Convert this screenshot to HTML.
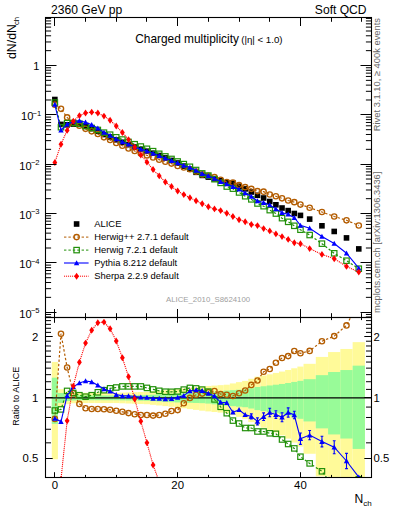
<!DOCTYPE html><html><head><meta charset="utf-8"><style>html,body{margin:0;padding:0;background:#fff;width:393px;height:512px;overflow:hidden}svg{display:block}</style></head><body><svg width="393" height="512" viewBox="0 0 393 512" font-family="Liberation Sans, sans-serif"><rect width="393" height="512" fill="#fff"/><defs><clipPath id="cm"><rect x="45.5" y="17.5" width="326.0" height="300.0"/></clipPath><clipPath id="cr"><rect x="45.5" y="317.5" width="326.0" height="160.0"/></clipPath></defs><g clip-path="url(#cr)"><g fill="#fffa99"><rect x="51.78" y="361.94" width="6.14" height="97.33"/><rect x="57.92" y="389.16" width="6.14" height="18.23"/><rect x="64.06" y="391.84" width="6.14" height="12.36"/><rect x="70.2" y="392.66" width="6.14" height="10.59"/><rect x="76.34" y="392.75" width="6.14" height="10.42"/><rect x="82.48" y="392.83" width="6.14" height="10.24"/><rect x="88.62" y="392.83" width="6.14" height="10.24"/><rect x="94.76" y="392.83" width="6.14" height="10.24"/><rect x="100.9" y="392.83" width="6.14" height="10.24"/><rect x="107.04" y="392.83" width="6.14" height="10.24"/><rect x="113.18" y="392.83" width="6.14" height="10.24"/><rect x="119.32" y="392.63" width="6.14" height="10.66"/><rect x="125.46" y="392.43" width="6.14" height="11.09"/><rect x="131.6" y="392.23" width="6.14" height="11.51"/><rect x="137.74" y="392.03" width="6.14" height="11.94"/><rect x="143.88" y="391.84" width="6.14" height="12.36"/><rect x="150.02" y="391.29" width="6.14" height="13.54"/><rect x="156.16" y="390.74" width="6.14" height="14.73"/><rect x="162.3" y="390.2" width="6.14" height="15.91"/><rect x="168.44" y="389.66" width="6.14" height="17.1"/><rect x="174.58" y="389.08" width="6.14" height="18.4"/><rect x="180.72" y="388.44" width="6.14" height="19.83"/><rect x="186.86" y="387.81" width="6.14" height="21.26"/><rect x="193" y="387.18" width="6.14" height="22.69"/><rect x="199.14" y="386.56" width="6.14" height="24.13"/><rect x="205.28" y="386.03" width="6.14" height="25.36"/><rect x="211.42" y="385.59" width="6.14" height="26.39"/><rect x="217.56" y="385.15" width="6.14" height="27.42"/><rect x="223.7" y="384.72" width="6.14" height="28.46"/><rect x="229.84" y="383.42" width="6.14" height="31.57"/><rect x="235.98" y="382.15" width="6.14" height="34.7"/><rect x="242.12" y="380.89" width="6.14" height="37.85"/><rect x="248.26" y="378.76" width="6.14" height="43.35"/><rect x="254.4" y="376.69" width="6.14" height="48.93"/><rect x="260.54" y="375.5" width="6.14" height="52.22"/><rect x="266.68" y="374.33" width="6.14" height="55.55"/><rect x="272.82" y="372.94" width="6.14" height="59.62"/><rect x="278.96" y="371.56" width="6.14" height="63.75"/><rect x="285.1" y="370.01" width="6.14" height="68.61"/><rect x="291.24" y="368.27" width="6.14" height="74.24"/><rect x="297.38" y="366.58" width="6.14" height="80.01"/><rect x="303.52" y="363.83" width="12.28" height="89.94"/><rect x="315.8" y="356.92" width="12.28" height="119.49"/><rect x="328.08" y="352.06" width="12.28" height="146.19"/><rect x="340.36" y="348.97" width="12.28" height="167.59"/><rect x="352.64" y="342.15" width="12.28" height="242.58"/></g><g fill="#98fb98"><rect x="51.78" y="377.71" width="6.14" height="46.17"/><rect x="57.92" y="393" width="6.14" height="9.88"/><rect x="64.06" y="394.77" width="6.14" height="6.17"/><rect x="70.2" y="395.19" width="6.14" height="5.29"/><rect x="76.34" y="395.32" width="6.14" height="5.03"/><rect x="82.48" y="395.45" width="6.14" height="4.76"/><rect x="88.62" y="395.45" width="6.14" height="4.76"/><rect x="94.76" y="395.45" width="6.14" height="4.76"/><rect x="100.9" y="395.45" width="6.14" height="4.76"/><rect x="107.04" y="395.45" width="6.14" height="4.76"/><rect x="113.18" y="395.45" width="6.14" height="4.76"/><rect x="119.32" y="395.35" width="6.14" height="4.97"/><rect x="125.46" y="395.25" width="6.14" height="5.19"/><rect x="131.6" y="395.14" width="6.14" height="5.4"/><rect x="137.74" y="395.04" width="6.14" height="5.61"/><rect x="143.88" y="394.94" width="6.14" height="5.82"/><rect x="150.02" y="394.62" width="6.14" height="6.49"/><rect x="156.16" y="394.3" width="6.14" height="7.15"/><rect x="162.3" y="393.98" width="6.14" height="7.82"/><rect x="168.44" y="393.66" width="6.14" height="8.49"/><rect x="174.58" y="393.41" width="6.14" height="9"/><rect x="180.72" y="393.25" width="6.14" height="9.35"/><rect x="186.86" y="393.08" width="6.14" height="9.71"/><rect x="193" y="392.91" width="6.14" height="10.06"/><rect x="199.14" y="392.75" width="6.14" height="10.42"/><rect x="205.28" y="392.37" width="6.14" height="11.22"/><rect x="211.42" y="391.78" width="6.14" height="12.49"/><rect x="217.56" y="391.19" width="6.14" height="13.76"/><rect x="223.7" y="390.61" width="6.14" height="15.02"/><rect x="229.84" y="390.17" width="6.14" height="15.99"/><rect x="235.98" y="389.73" width="6.14" height="16.95"/><rect x="242.12" y="389.29" width="6.14" height="17.92"/><rect x="248.26" y="388.24" width="6.14" height="20.28"/><rect x="254.4" y="387.03" width="6.14" height="23.05"/><rect x="260.54" y="386.25" width="6.14" height="24.85"/><rect x="266.68" y="385.48" width="6.14" height="26.65"/><rect x="272.82" y="384.72" width="6.14" height="28.46"/><rect x="278.96" y="383.96" width="6.14" height="30.27"/><rect x="285.1" y="383.03" width="6.14" height="32.53"/><rect x="291.24" y="381.93" width="6.14" height="35.23"/><rect x="297.38" y="380.85" width="6.14" height="37.96"/><rect x="303.52" y="379.19" width="12.28" height="42.23"/><rect x="315.8" y="375.15" width="12.28" height="53.22"/><rect x="328.08" y="372" width="12.28" height="62.43"/><rect x="340.36" y="370.05" width="12.28" height="68.49"/><rect x="352.64" y="365.65" width="12.28" height="83.27"/></g><line x1="45.5" y1="397.8" x2="371.5" y2="397.8" stroke="#000" stroke-width="1.2"/><polyline fill="none" stroke="#b35c00" stroke-width="1.2" stroke-dasharray="2.4,2" points="54.85,418.9 60.99,333.7 67.13,367.5 73.27,393.2 79.41,403.9 85.55,408.2 91.69,409 97.83,409 103.97,409.3 110.11,409.8 116.25,410.8 122.39,411.8 128.53,413.1 134.67,414.2 140.81,415 146.95,415 153.09,415.6 159.23,415 165.37,413.7 171.51,411 177.65,410.1 183.79,403.3 189.93,397.9 196.07,394.8 202.21,393.6 208.35,392.3 214.49,391 220.63,394.1 226.77,394.8 232.91,396 239.05,393.3 245.19,390.5 251.33,384.9 257.47,380.5 263.61,371.8 269.75,369 275.89,362.8 282.03,358 288.17,356.1 294.31,351 300.45,353.3 309.66,350.9 321.94,341.2 334.22,336.1 346.5,325.4 358.78,301.53"/><circle cx="54.85" cy="418.9" r="2.65" fill="none" stroke="#b35c00" stroke-width="1.35"/><circle cx="60.99" cy="333.7" r="2.65" fill="none" stroke="#b35c00" stroke-width="1.35"/><circle cx="67.13" cy="367.5" r="2.65" fill="none" stroke="#b35c00" stroke-width="1.35"/><circle cx="73.27" cy="393.2" r="2.65" fill="none" stroke="#b35c00" stroke-width="1.35"/><circle cx="79.41" cy="403.9" r="2.65" fill="none" stroke="#b35c00" stroke-width="1.35"/><circle cx="85.55" cy="408.2" r="2.65" fill="none" stroke="#b35c00" stroke-width="1.35"/><circle cx="91.69" cy="409" r="2.65" fill="none" stroke="#b35c00" stroke-width="1.35"/><circle cx="97.83" cy="409" r="2.65" fill="none" stroke="#b35c00" stroke-width="1.35"/><circle cx="103.97" cy="409.3" r="2.65" fill="none" stroke="#b35c00" stroke-width="1.35"/><circle cx="110.11" cy="409.8" r="2.65" fill="none" stroke="#b35c00" stroke-width="1.35"/><circle cx="116.25" cy="410.8" r="2.65" fill="none" stroke="#b35c00" stroke-width="1.35"/><circle cx="122.39" cy="411.8" r="2.65" fill="none" stroke="#b35c00" stroke-width="1.35"/><circle cx="128.53" cy="413.1" r="2.65" fill="none" stroke="#b35c00" stroke-width="1.35"/><circle cx="134.67" cy="414.2" r="2.65" fill="none" stroke="#b35c00" stroke-width="1.35"/><circle cx="140.81" cy="415" r="2.65" fill="none" stroke="#b35c00" stroke-width="1.35"/><circle cx="146.95" cy="415" r="2.65" fill="none" stroke="#b35c00" stroke-width="1.35"/><circle cx="153.09" cy="415.6" r="2.65" fill="none" stroke="#b35c00" stroke-width="1.35"/><circle cx="159.23" cy="415" r="2.65" fill="none" stroke="#b35c00" stroke-width="1.35"/><circle cx="165.37" cy="413.7" r="2.65" fill="none" stroke="#b35c00" stroke-width="1.35"/><circle cx="171.51" cy="411" r="2.65" fill="none" stroke="#b35c00" stroke-width="1.35"/><circle cx="177.65" cy="410.1" r="2.65" fill="none" stroke="#b35c00" stroke-width="1.35"/><circle cx="183.79" cy="403.3" r="2.65" fill="none" stroke="#b35c00" stroke-width="1.35"/><circle cx="189.93" cy="397.9" r="2.65" fill="none" stroke="#b35c00" stroke-width="1.35"/><circle cx="196.07" cy="394.8" r="2.65" fill="none" stroke="#b35c00" stroke-width="1.35"/><circle cx="202.21" cy="393.6" r="2.65" fill="none" stroke="#b35c00" stroke-width="1.35"/><circle cx="208.35" cy="392.3" r="2.65" fill="none" stroke="#b35c00" stroke-width="1.35"/><circle cx="214.49" cy="391" r="2.65" fill="none" stroke="#b35c00" stroke-width="1.35"/><circle cx="220.63" cy="394.1" r="2.65" fill="none" stroke="#b35c00" stroke-width="1.35"/><circle cx="226.77" cy="394.8" r="2.65" fill="none" stroke="#b35c00" stroke-width="1.35"/><circle cx="232.91" cy="396" r="2.65" fill="none" stroke="#b35c00" stroke-width="1.35"/><circle cx="239.05" cy="393.3" r="2.65" fill="none" stroke="#b35c00" stroke-width="1.35"/><circle cx="245.19" cy="390.5" r="2.65" fill="none" stroke="#b35c00" stroke-width="1.35"/><circle cx="251.33" cy="384.9" r="2.65" fill="none" stroke="#b35c00" stroke-width="1.35"/><circle cx="257.47" cy="380.5" r="2.65" fill="none" stroke="#b35c00" stroke-width="1.35"/><circle cx="263.61" cy="371.8" r="2.65" fill="none" stroke="#b35c00" stroke-width="1.35"/><circle cx="269.75" cy="369" r="2.65" fill="none" stroke="#b35c00" stroke-width="1.35"/><circle cx="275.89" cy="362.8" r="2.65" fill="none" stroke="#b35c00" stroke-width="1.35"/><circle cx="282.03" cy="358" r="2.65" fill="none" stroke="#b35c00" stroke-width="1.35"/><circle cx="288.17" cy="356.1" r="2.65" fill="none" stroke="#b35c00" stroke-width="1.35"/><circle cx="294.31" cy="351" r="2.65" fill="none" stroke="#b35c00" stroke-width="1.35"/><circle cx="300.45" cy="353.3" r="2.65" fill="none" stroke="#b35c00" stroke-width="1.35"/><circle cx="309.66" cy="350.9" r="2.65" fill="none" stroke="#b35c00" stroke-width="1.35"/><circle cx="321.94" cy="341.2" r="2.65" fill="none" stroke="#b35c00" stroke-width="1.35"/><circle cx="334.22" cy="336.1" r="2.65" fill="none" stroke="#b35c00" stroke-width="1.35"/><circle cx="346.5" cy="325.4" r="2.65" fill="none" stroke="#b35c00" stroke-width="1.35"/><circle cx="358.78" cy="301.53" r="2.65" fill="none" stroke="#b35c00" stroke-width="1.35"/><polyline fill="none" stroke="#22900a" stroke-width="1.2" stroke-dasharray="2.4,2" points="54.85,410.5 60.99,409.4 67.13,390.9 73.27,392.9 79.41,395.2 85.55,396.7 91.69,395.2 97.83,392.3 103.97,390.2 110.11,388.3 116.25,387.5 122.39,386.4 128.53,386.4 134.67,386.4 140.81,386.4 146.95,387.9 153.09,389.4 159.23,390.8 165.37,391.7 171.51,391.8 177.65,391.5 183.79,389.6 189.93,387.9 196.07,388.4 202.21,389.6 208.35,391.6 214.49,399.4 220.63,406.8 226.77,413.2 232.91,420.6 239.05,423.5 245.19,428 251.33,428 257.47,431.5 263.61,431.5 269.75,433.3 275.89,433.8 282.03,439.5 288.17,444 294.31,448.4 300.45,456.7 309.66,463.4 321.94,471.3 334.22,487.7 346.5,491.61 358.78,479.26"/><rect x="52.15" y="407.8" width="5.4" height="5.4" fill="none" stroke="#22900a" stroke-width="1.2"/><rect x="58.29" y="406.7" width="5.4" height="5.4" fill="none" stroke="#22900a" stroke-width="1.2"/><rect x="64.43" y="388.2" width="5.4" height="5.4" fill="none" stroke="#22900a" stroke-width="1.2"/><rect x="70.57" y="390.2" width="5.4" height="5.4" fill="none" stroke="#22900a" stroke-width="1.2"/><rect x="76.71" y="392.5" width="5.4" height="5.4" fill="none" stroke="#22900a" stroke-width="1.2"/><rect x="82.85" y="394" width="5.4" height="5.4" fill="none" stroke="#22900a" stroke-width="1.2"/><rect x="88.99" y="392.5" width="5.4" height="5.4" fill="none" stroke="#22900a" stroke-width="1.2"/><rect x="95.13" y="389.6" width="5.4" height="5.4" fill="none" stroke="#22900a" stroke-width="1.2"/><rect x="101.27" y="387.5" width="5.4" height="5.4" fill="none" stroke="#22900a" stroke-width="1.2"/><rect x="107.41" y="385.6" width="5.4" height="5.4" fill="none" stroke="#22900a" stroke-width="1.2"/><rect x="113.55" y="384.8" width="5.4" height="5.4" fill="none" stroke="#22900a" stroke-width="1.2"/><rect x="119.69" y="383.7" width="5.4" height="5.4" fill="none" stroke="#22900a" stroke-width="1.2"/><rect x="125.83" y="383.7" width="5.4" height="5.4" fill="none" stroke="#22900a" stroke-width="1.2"/><rect x="131.97" y="383.7" width="5.4" height="5.4" fill="none" stroke="#22900a" stroke-width="1.2"/><rect x="138.11" y="383.7" width="5.4" height="5.4" fill="none" stroke="#22900a" stroke-width="1.2"/><rect x="144.25" y="385.2" width="5.4" height="5.4" fill="none" stroke="#22900a" stroke-width="1.2"/><rect x="150.39" y="386.7" width="5.4" height="5.4" fill="none" stroke="#22900a" stroke-width="1.2"/><rect x="156.53" y="388.1" width="5.4" height="5.4" fill="none" stroke="#22900a" stroke-width="1.2"/><rect x="162.67" y="389" width="5.4" height="5.4" fill="none" stroke="#22900a" stroke-width="1.2"/><rect x="168.81" y="389.1" width="5.4" height="5.4" fill="none" stroke="#22900a" stroke-width="1.2"/><rect x="174.95" y="388.8" width="5.4" height="5.4" fill="none" stroke="#22900a" stroke-width="1.2"/><rect x="181.09" y="386.9" width="5.4" height="5.4" fill="none" stroke="#22900a" stroke-width="1.2"/><rect x="187.23" y="385.2" width="5.4" height="5.4" fill="none" stroke="#22900a" stroke-width="1.2"/><rect x="193.37" y="385.7" width="5.4" height="5.4" fill="none" stroke="#22900a" stroke-width="1.2"/><rect x="199.51" y="386.9" width="5.4" height="5.4" fill="none" stroke="#22900a" stroke-width="1.2"/><rect x="205.65" y="388.9" width="5.4" height="5.4" fill="none" stroke="#22900a" stroke-width="1.2"/><rect x="211.79" y="396.7" width="5.4" height="5.4" fill="none" stroke="#22900a" stroke-width="1.2"/><rect x="217.93" y="404.1" width="5.4" height="5.4" fill="none" stroke="#22900a" stroke-width="1.2"/><rect x="224.07" y="410.5" width="5.4" height="5.4" fill="none" stroke="#22900a" stroke-width="1.2"/><rect x="230.21" y="417.9" width="5.4" height="5.4" fill="none" stroke="#22900a" stroke-width="1.2"/><rect x="236.35" y="420.8" width="5.4" height="5.4" fill="none" stroke="#22900a" stroke-width="1.2"/><rect x="242.49" y="425.3" width="5.4" height="5.4" fill="none" stroke="#22900a" stroke-width="1.2"/><rect x="248.63" y="425.3" width="5.4" height="5.4" fill="none" stroke="#22900a" stroke-width="1.2"/><rect x="254.77" y="428.8" width="5.4" height="5.4" fill="none" stroke="#22900a" stroke-width="1.2"/><rect x="260.91" y="428.8" width="5.4" height="5.4" fill="none" stroke="#22900a" stroke-width="1.2"/><rect x="267.05" y="430.6" width="5.4" height="5.4" fill="none" stroke="#22900a" stroke-width="1.2"/><rect x="273.19" y="431.1" width="5.4" height="5.4" fill="none" stroke="#22900a" stroke-width="1.2"/><rect x="279.33" y="436.8" width="5.4" height="5.4" fill="none" stroke="#22900a" stroke-width="1.2"/><rect x="285.47" y="441.3" width="5.4" height="5.4" fill="none" stroke="#22900a" stroke-width="1.2"/><rect x="291.61" y="445.7" width="5.4" height="5.4" fill="none" stroke="#22900a" stroke-width="1.2"/><rect x="297.75" y="454" width="5.4" height="5.4" fill="none" stroke="#22900a" stroke-width="1.2"/><rect x="306.96" y="460.7" width="5.4" height="5.4" fill="none" stroke="#22900a" stroke-width="1.2"/><rect x="319.24" y="468.6" width="5.4" height="5.4" fill="none" stroke="#22900a" stroke-width="1.2"/><rect x="331.52" y="485" width="5.4" height="5.4" fill="none" stroke="#22900a" stroke-width="1.2"/><rect x="343.8" y="488.91" width="5.4" height="5.4" fill="none" stroke="#22900a" stroke-width="1.2"/><rect x="356.08" y="476.56" width="5.4" height="5.4" fill="none" stroke="#22900a" stroke-width="1.2"/><polyline fill="none" stroke="#0000ff" stroke-width="1.1"  points="54.85,418.5 60.99,421.6 67.13,395.6 73.27,386.8 79.41,383 85.55,381 91.69,381.9 97.83,385.3 103.97,389 110.11,391.3 116.25,394.6 122.39,395.9 128.53,395.9 134.67,396.5 140.81,397.1 146.95,397.4 153.09,398.4 159.23,398.4 165.37,399 171.51,398.6 177.65,397.4 183.79,395.6 189.93,391 196.07,390 202.21,390.7 208.35,393.4 214.49,396 220.63,402.3 226.77,402.7 232.91,412.3 239.05,409.8 245.19,414.7 251.33,416.4 257.47,421.4 263.61,416.7 269.75,412.5 275.89,414.6 282.03,417.3 288.17,412.5 294.31,415 300.45,438.7 309.66,435.1 321.94,441.6 334.22,447.2 346.5,461 358.78,477.1"/><polygon points="54.85,415.8 57.55,420.8 52.15,420.8" fill="#0000ff"/><polygon points="60.99,418.9 63.69,423.9 58.29,423.9" fill="#0000ff"/><polygon points="67.13,392.9 69.83,397.9 64.43,397.9" fill="#0000ff"/><polygon points="73.27,384.1 75.97,389.1 70.57,389.1" fill="#0000ff"/><polygon points="79.41,380.3 82.11,385.3 76.71,385.3" fill="#0000ff"/><polygon points="85.55,378.3 88.25,383.3 82.85,383.3" fill="#0000ff"/><polygon points="91.69,379.2 94.39,384.2 88.99,384.2" fill="#0000ff"/><polygon points="97.83,382.6 100.53,387.6 95.13,387.6" fill="#0000ff"/><polygon points="103.97,386.3 106.67,391.3 101.27,391.3" fill="#0000ff"/><polygon points="110.11,388.6 112.81,393.6 107.41,393.6" fill="#0000ff"/><polygon points="116.25,391.9 118.95,396.9 113.55,396.9" fill="#0000ff"/><polygon points="122.39,393.2 125.09,398.2 119.69,398.2" fill="#0000ff"/><polygon points="128.53,393.2 131.23,398.2 125.83,398.2" fill="#0000ff"/><polygon points="134.67,393.8 137.37,398.8 131.97,398.8" fill="#0000ff"/><polygon points="140.81,394.4 143.51,399.4 138.11,399.4" fill="#0000ff"/><polygon points="146.95,394.7 149.65,399.7 144.25,399.7" fill="#0000ff"/><polygon points="153.09,395.7 155.79,400.7 150.39,400.7" fill="#0000ff"/><polygon points="159.23,395.7 161.93,400.7 156.53,400.7" fill="#0000ff"/><polygon points="165.37,396.3 168.07,401.3 162.67,401.3" fill="#0000ff"/><polygon points="171.51,395.9 174.21,400.9 168.81,400.9" fill="#0000ff"/><polygon points="177.65,394.7 180.35,399.7 174.95,399.7" fill="#0000ff"/><polygon points="183.79,392.9 186.49,397.9 181.09,397.9" fill="#0000ff"/><polygon points="189.93,388.3 192.63,393.3 187.23,393.3" fill="#0000ff"/><polygon points="196.07,387.3 198.77,392.3 193.37,392.3" fill="#0000ff"/><polygon points="202.21,388 204.91,393 199.51,393" fill="#0000ff"/><polygon points="208.35,390.7 211.05,395.7 205.65,395.7" fill="#0000ff"/><polygon points="214.49,393.3 217.19,398.3 211.79,398.3" fill="#0000ff"/><polygon points="220.63,399.6 223.33,404.6 217.93,404.6" fill="#0000ff"/><polygon points="226.77,400 229.47,405 224.07,405" fill="#0000ff"/><polygon points="232.91,409.6 235.61,414.6 230.21,414.6" fill="#0000ff"/><polygon points="239.05,407.1 241.75,412.1 236.35,412.1" fill="#0000ff"/><polygon points="245.19,412 247.89,417 242.49,417" fill="#0000ff"/><polygon points="251.33,413.7 254.03,418.7 248.63,418.7" fill="#0000ff"/><polygon points="257.47,418.7 260.17,423.7 254.77,423.7" fill="#0000ff"/><polygon points="263.61,414 266.31,419 260.91,419" fill="#0000ff"/><polygon points="269.75,409.8 272.45,414.8 267.05,414.8" fill="#0000ff"/><polygon points="275.89,411.9 278.59,416.9 273.19,416.9" fill="#0000ff"/><polygon points="282.03,414.6 284.73,419.6 279.33,419.6" fill="#0000ff"/><polygon points="288.17,409.8 290.87,414.8 285.47,414.8" fill="#0000ff"/><polygon points="294.31,412.3 297.01,417.3 291.61,417.3" fill="#0000ff"/><polygon points="300.45,436 303.15,441 297.75,441" fill="#0000ff"/><polygon points="309.66,432.4 312.36,437.4 306.96,437.4" fill="#0000ff"/><polygon points="321.94,438.9 324.64,443.9 319.24,443.9" fill="#0000ff"/><polygon points="334.22,444.5 336.92,449.5 331.52,449.5" fill="#0000ff"/><polygon points="346.5,458.3 349.2,463.3 343.8,463.3" fill="#0000ff"/><polygon points="358.78,474.4 361.48,479.4 356.08,479.4" fill="#0000ff"/><path d="M251.33 413.9v5M249.93 413.9h2.8M249.93 418.9h2.8M257.47 417.9v7M256.07 417.9h2.8M256.07 424.9h2.8M263.61 412.9v7.6M262.21 412.9h2.8M262.21 420.5h2.8M269.75 408.3v8.4M268.35 408.3h2.8M268.35 416.7h2.8M275.89 410.8v7.6M274.49 410.8h2.8M274.49 418.4h2.8M282.03 412.8v9M280.63 412.8h2.8M280.63 421.8h2.8M288.17 407.9v9.2M286.77 407.9h2.8M286.77 417.1h2.8M294.31 411.2v7.6M292.91 411.2h2.8M292.91 418.8h2.8M300.45 433v11.4M299.05 433h2.8M299.05 444.4h2.8M309.66 430.5v9.2M308.26 430.5h2.8M308.26 439.7h2.8M321.94 436.3v10.6M320.54 436.3h2.8M320.54 446.9h2.8M334.22 440.7v13M332.82 440.7h2.8M332.82 453.7h2.8M346.5 453.4v15.2M345.1 453.4h2.8M345.1 468.6h2.8" stroke="#0000ff" stroke-width="1.1" fill="none"/><polyline fill="none" stroke="#ff0000" stroke-width="1.1" stroke-dasharray="1.1,0.9" points="54.85,657 60.99,479.26 67.13,420.8 73.27,386.1 79.41,362.2 85.55,343.1 91.69,330.2 97.83,322.7 103.97,322.1 110.11,328.8 116.25,341 122.39,357.7 128.53,376.8 134.67,399 140.81,421.3 146.95,442.8 153.09,465 159.23,481.73 165.37,496.95 171.51,505.18 177.65,513 183.79,515.06 189.93,515.06 196.07,514.65 202.21,514.65 208.35,519.99 214.49,521.64 220.63,520.82 226.77,523.29 232.91,535.22 239.05,535.63 245.19,532.75 251.33,531.52 257.47,522.46 263.61,523.7 269.75,518.76 275.89,517.53 282.03,515.47 288.17,516.29 294.31,517.94 300.45,514.23 309.66,519.17 321.94,515.47 334.22,509.91 346.5,515.06 358.78,493.25"/><polygon points="54.85,653.55 57.25,657 54.85,660.45 52.45,657" fill="#ff0000"/><polygon points="60.99,475.81 63.39,479.26 60.99,482.71 58.59,479.26" fill="#ff0000"/><polygon points="67.13,417.35 69.53,420.8 67.13,424.25 64.73,420.8" fill="#ff0000"/><polygon points="73.27,382.65 75.67,386.1 73.27,389.55 70.87,386.1" fill="#ff0000"/><polygon points="79.41,358.75 81.81,362.2 79.41,365.65 77.01,362.2" fill="#ff0000"/><polygon points="85.55,339.65 87.95,343.1 85.55,346.55 83.15,343.1" fill="#ff0000"/><polygon points="91.69,326.75 94.09,330.2 91.69,333.65 89.29,330.2" fill="#ff0000"/><polygon points="97.83,319.25 100.23,322.7 97.83,326.15 95.43,322.7" fill="#ff0000"/><polygon points="103.97,318.65 106.37,322.1 103.97,325.55 101.57,322.1" fill="#ff0000"/><polygon points="110.11,325.35 112.51,328.8 110.11,332.25 107.71,328.8" fill="#ff0000"/><polygon points="116.25,337.55 118.65,341 116.25,344.45 113.85,341" fill="#ff0000"/><polygon points="122.39,354.25 124.79,357.7 122.39,361.15 119.99,357.7" fill="#ff0000"/><polygon points="128.53,373.35 130.93,376.8 128.53,380.25 126.13,376.8" fill="#ff0000"/><polygon points="134.67,395.55 137.07,399 134.67,402.45 132.27,399" fill="#ff0000"/><polygon points="140.81,417.85 143.21,421.3 140.81,424.75 138.41,421.3" fill="#ff0000"/><polygon points="146.95,439.35 149.35,442.8 146.95,446.25 144.55,442.8" fill="#ff0000"/><polygon points="153.09,461.55 155.49,465 153.09,468.45 150.69,465" fill="#ff0000"/><polygon points="159.23,478.28 161.63,481.73 159.23,485.18 156.83,481.73" fill="#ff0000"/><polygon points="165.37,493.5 167.77,496.95 165.37,500.4 162.97,496.95" fill="#ff0000"/><polygon points="171.51,501.73 173.91,505.18 171.51,508.63 169.11,505.18" fill="#ff0000"/><polygon points="177.65,509.55 180.05,513 177.65,516.45 175.25,513" fill="#ff0000"/><polygon points="183.79,511.61 186.19,515.06 183.79,518.51 181.39,515.06" fill="#ff0000"/><polygon points="189.93,511.61 192.33,515.06 189.93,518.51 187.53,515.06" fill="#ff0000"/><polygon points="196.07,511.2 198.47,514.65 196.07,518.1 193.67,514.65" fill="#ff0000"/><polygon points="202.21,511.2 204.61,514.65 202.21,518.1 199.81,514.65" fill="#ff0000"/><polygon points="208.35,516.54 210.75,519.99 208.35,523.44 205.95,519.99" fill="#ff0000"/><polygon points="214.49,518.19 216.89,521.64 214.49,525.09 212.09,521.64" fill="#ff0000"/><polygon points="220.63,517.37 223.03,520.82 220.63,524.27 218.23,520.82" fill="#ff0000"/><polygon points="226.77,519.84 229.17,523.29 226.77,526.74 224.37,523.29" fill="#ff0000"/><polygon points="232.91,531.77 235.31,535.22 232.91,538.67 230.51,535.22" fill="#ff0000"/><polygon points="239.05,532.18 241.45,535.63 239.05,539.08 236.65,535.63" fill="#ff0000"/><polygon points="245.19,529.3 247.59,532.75 245.19,536.2 242.79,532.75" fill="#ff0000"/><polygon points="251.33,528.07 253.73,531.52 251.33,534.97 248.93,531.52" fill="#ff0000"/><polygon points="257.47,519.01 259.87,522.46 257.47,525.91 255.07,522.46" fill="#ff0000"/><polygon points="263.61,520.25 266.01,523.7 263.61,527.15 261.21,523.7" fill="#ff0000"/><polygon points="269.75,515.31 272.15,518.76 269.75,522.21 267.35,518.76" fill="#ff0000"/><polygon points="275.89,514.08 278.29,517.53 275.89,520.98 273.49,517.53" fill="#ff0000"/><polygon points="282.03,512.02 284.43,515.47 282.03,518.92 279.63,515.47" fill="#ff0000"/><polygon points="288.17,512.84 290.57,516.29 288.17,519.74 285.77,516.29" fill="#ff0000"/><polygon points="294.31,514.49 296.71,517.94 294.31,521.39 291.91,517.94" fill="#ff0000"/><polygon points="300.45,510.78 302.85,514.23 300.45,517.68 298.05,514.23" fill="#ff0000"/><polygon points="309.66,515.72 312.06,519.17 309.66,522.62 307.26,519.17" fill="#ff0000"/><polygon points="321.94,512.02 324.34,515.47 321.94,518.92 319.54,515.47" fill="#ff0000"/><polygon points="334.22,506.46 336.62,509.91 334.22,513.36 331.82,509.91" fill="#ff0000"/><polygon points="346.5,511.61 348.9,515.06 346.5,518.51 344.1,515.06" fill="#ff0000"/><polygon points="358.78,489.8 361.18,493.25 358.78,496.7 356.38,493.25" fill="#ff0000"/></g><g clip-path="url(#cm)"><rect x="52.05" y="96.7" width="5.6" height="5.6" fill="#000"/><rect x="58.19" y="121.6" width="5.6" height="5.6" fill="#000"/><rect x="64.33" y="122" width="5.6" height="5.6" fill="#000"/><rect x="70.47" y="121.3" width="5.6" height="5.6" fill="#000"/><rect x="76.61" y="121.5" width="5.6" height="5.6" fill="#000"/><rect x="82.75" y="123.5" width="5.6" height="5.6" fill="#000"/><rect x="88.89" y="125.8" width="5.6" height="5.6" fill="#000"/><rect x="95.03" y="128.5" width="5.6" height="5.6" fill="#000"/><rect x="101.17" y="131.7" width="5.6" height="5.6" fill="#000"/><rect x="107.31" y="134.2" width="5.6" height="5.6" fill="#000"/><rect x="113.45" y="137" width="5.6" height="5.6" fill="#000"/><rect x="119.59" y="139.5" width="5.6" height="5.6" fill="#000"/><rect x="125.73" y="141.9" width="5.6" height="5.6" fill="#000"/><rect x="131.87" y="144.2" width="5.6" height="5.6" fill="#000"/><rect x="138.01" y="146.5" width="5.6" height="5.6" fill="#000"/><rect x="144.15" y="148.4" width="5.6" height="5.6" fill="#000"/><rect x="150.29" y="150.4" width="5.6" height="5.6" fill="#000"/><rect x="156.43" y="152.7" width="5.6" height="5.6" fill="#000"/><rect x="162.57" y="155.1" width="5.6" height="5.6" fill="#000"/><rect x="168.71" y="157.6" width="5.6" height="5.6" fill="#000"/><rect x="174.85" y="160.2" width="5.6" height="5.6" fill="#000"/><rect x="180.99" y="163.3" width="5.6" height="5.6" fill="#000"/><rect x="187.13" y="166.4" width="5.6" height="5.6" fill="#000"/><rect x="193.27" y="169.5" width="5.6" height="5.6" fill="#000"/><rect x="199.41" y="172.6" width="5.6" height="5.6" fill="#000"/><rect x="205.55" y="174.3" width="5.6" height="5.6" fill="#000"/><rect x="211.69" y="176" width="5.6" height="5.6" fill="#000"/><rect x="217.83" y="177.9" width="5.6" height="5.6" fill="#000"/><rect x="223.97" y="180" width="5.6" height="5.6" fill="#000"/><rect x="230.11" y="180.3" width="5.6" height="5.6" fill="#000"/><rect x="236.25" y="183.4" width="5.6" height="5.6" fill="#000"/><rect x="242.39" y="186.1" width="5.6" height="5.6" fill="#000"/><rect x="248.53" y="189.2" width="5.6" height="5.6" fill="#000"/><rect x="254.67" y="192.5" width="5.6" height="5.6" fill="#000"/><rect x="260.81" y="195.2" width="5.6" height="5.6" fill="#000"/><rect x="266.95" y="198.7" width="5.6" height="5.6" fill="#000"/><rect x="273.09" y="202" width="5.6" height="5.6" fill="#000"/><rect x="279.23" y="205.2" width="5.6" height="5.6" fill="#000"/><rect x="285.37" y="207.8" width="5.6" height="5.6" fill="#000"/><rect x="291.51" y="210.7" width="5.6" height="5.6" fill="#000"/><rect x="297.65" y="212.6" width="5.6" height="5.6" fill="#000"/><rect x="306.86" y="216.3" width="5.6" height="5.6" fill="#000"/><rect x="319.14" y="223" width="5.6" height="5.6" fill="#000"/><rect x="331.42" y="228.65" width="5.6" height="5.6" fill="#000"/><rect x="343.7" y="235.1" width="5.6" height="5.6" fill="#000"/><rect x="355.98" y="246.1" width="5.6" height="5.6" fill="#000"/><polyline fill="none" stroke="#b35c00" stroke-width="1.2" stroke-dasharray="2.4,2" points="54.85,104.63 60.99,108.82 67.13,117.44 73.27,122.98 79.41,125.78 85.55,128.83 91.69,131.32 97.83,134.02 103.97,137.3 110.11,139.92 116.25,142.96 122.39,145.7 128.53,148.42 134.67,150.99 140.81,153.48 146.95,155.38 153.09,157.53 159.23,159.68 165.37,161.76 171.51,163.61 177.65,165.99 183.79,167.44 189.93,169.22 196.07,171.57 202.21,174.38 208.35,175.76 214.49,177.15 220.63,179.8 226.77,182.07 232.91,182.66 239.05,185.11 245.19,187.13 251.33,188.86 257.47,191.1 263.61,191.68 269.75,194.5 275.89,196.29 282.03,198.33 288.17,200.46 294.31,202.13 300.45,204.58 309.66,207.7 321.94,212.04 334.22,216.45 346.5,220.3 358.78,225.5"/><circle cx="54.85" cy="104.63" r="2.65" fill="none" stroke="#b35c00" stroke-width="1.35"/><circle cx="60.99" cy="108.82" r="2.65" fill="none" stroke="#b35c00" stroke-width="1.35"/><circle cx="67.13" cy="117.44" r="2.65" fill="none" stroke="#b35c00" stroke-width="1.35"/><circle cx="73.27" cy="122.98" r="2.65" fill="none" stroke="#b35c00" stroke-width="1.35"/><circle cx="79.41" cy="125.78" r="2.65" fill="none" stroke="#b35c00" stroke-width="1.35"/><circle cx="85.55" cy="128.83" r="2.65" fill="none" stroke="#b35c00" stroke-width="1.35"/><circle cx="91.69" cy="131.32" r="2.65" fill="none" stroke="#b35c00" stroke-width="1.35"/><circle cx="97.83" cy="134.02" r="2.65" fill="none" stroke="#b35c00" stroke-width="1.35"/><circle cx="103.97" cy="137.3" r="2.65" fill="none" stroke="#b35c00" stroke-width="1.35"/><circle cx="110.11" cy="139.92" r="2.65" fill="none" stroke="#b35c00" stroke-width="1.35"/><circle cx="116.25" cy="142.96" r="2.65" fill="none" stroke="#b35c00" stroke-width="1.35"/><circle cx="122.39" cy="145.7" r="2.65" fill="none" stroke="#b35c00" stroke-width="1.35"/><circle cx="128.53" cy="148.42" r="2.65" fill="none" stroke="#b35c00" stroke-width="1.35"/><circle cx="134.67" cy="150.99" r="2.65" fill="none" stroke="#b35c00" stroke-width="1.35"/><circle cx="140.81" cy="153.48" r="2.65" fill="none" stroke="#b35c00" stroke-width="1.35"/><circle cx="146.95" cy="155.38" r="2.65" fill="none" stroke="#b35c00" stroke-width="1.35"/><circle cx="153.09" cy="157.53" r="2.65" fill="none" stroke="#b35c00" stroke-width="1.35"/><circle cx="159.23" cy="159.68" r="2.65" fill="none" stroke="#b35c00" stroke-width="1.35"/><circle cx="165.37" cy="161.76" r="2.65" fill="none" stroke="#b35c00" stroke-width="1.35"/><circle cx="171.51" cy="163.61" r="2.65" fill="none" stroke="#b35c00" stroke-width="1.35"/><circle cx="177.65" cy="165.99" r="2.65" fill="none" stroke="#b35c00" stroke-width="1.35"/><circle cx="183.79" cy="167.44" r="2.65" fill="none" stroke="#b35c00" stroke-width="1.35"/><circle cx="189.93" cy="169.22" r="2.65" fill="none" stroke="#b35c00" stroke-width="1.35"/><circle cx="196.07" cy="171.57" r="2.65" fill="none" stroke="#b35c00" stroke-width="1.35"/><circle cx="202.21" cy="174.38" r="2.65" fill="none" stroke="#b35c00" stroke-width="1.35"/><circle cx="208.35" cy="175.76" r="2.65" fill="none" stroke="#b35c00" stroke-width="1.35"/><circle cx="214.49" cy="177.15" r="2.65" fill="none" stroke="#b35c00" stroke-width="1.35"/><circle cx="220.63" cy="179.8" r="2.65" fill="none" stroke="#b35c00" stroke-width="1.35"/><circle cx="226.77" cy="182.07" r="2.65" fill="none" stroke="#b35c00" stroke-width="1.35"/><circle cx="232.91" cy="182.66" r="2.65" fill="none" stroke="#b35c00" stroke-width="1.35"/><circle cx="239.05" cy="185.11" r="2.65" fill="none" stroke="#b35c00" stroke-width="1.35"/><circle cx="245.19" cy="187.13" r="2.65" fill="none" stroke="#b35c00" stroke-width="1.35"/><circle cx="251.33" cy="188.86" r="2.65" fill="none" stroke="#b35c00" stroke-width="1.35"/><circle cx="257.47" cy="191.1" r="2.65" fill="none" stroke="#b35c00" stroke-width="1.35"/><circle cx="263.61" cy="191.68" r="2.65" fill="none" stroke="#b35c00" stroke-width="1.35"/><circle cx="269.75" cy="194.5" r="2.65" fill="none" stroke="#b35c00" stroke-width="1.35"/><circle cx="275.89" cy="196.29" r="2.65" fill="none" stroke="#b35c00" stroke-width="1.35"/><circle cx="282.03" cy="198.33" r="2.65" fill="none" stroke="#b35c00" stroke-width="1.35"/><circle cx="288.17" cy="200.46" r="2.65" fill="none" stroke="#b35c00" stroke-width="1.35"/><circle cx="294.31" cy="202.13" r="2.65" fill="none" stroke="#b35c00" stroke-width="1.35"/><circle cx="300.45" cy="204.58" r="2.65" fill="none" stroke="#b35c00" stroke-width="1.35"/><circle cx="309.66" cy="207.7" r="2.65" fill="none" stroke="#b35c00" stroke-width="1.35"/><circle cx="321.94" cy="212.04" r="2.65" fill="none" stroke="#b35c00" stroke-width="1.35"/><circle cx="334.22" cy="216.45" r="2.65" fill="none" stroke="#b35c00" stroke-width="1.35"/><circle cx="346.5" cy="220.3" r="2.65" fill="none" stroke="#b35c00" stroke-width="1.35"/><circle cx="358.78" cy="225.5" r="2.65" fill="none" stroke="#b35c00" stroke-width="1.35"/><polyline fill="none" stroke="#22900a" stroke-width="1.2" stroke-dasharray="2.4,2" points="54.85,102.59 60.99,127.22 67.13,123.12 73.27,122.91 79.41,123.67 85.55,126.03 91.69,127.97 97.83,129.96 103.97,132.65 110.11,134.69 116.25,137.3 122.39,139.53 128.53,141.93 134.67,144.23 140.81,146.53 146.95,148.79 153.09,151.16 159.23,153.8 165.37,156.42 171.51,158.94 177.65,161.47 183.79,164.11 189.93,166.79 196.07,170.02 202.21,173.41 208.35,175.59 214.49,179.19 220.63,182.89 226.77,186.54 232.91,188.64 239.05,192.45 245.19,196.24 251.33,199.34 257.47,203.49 263.61,206.19 269.75,210.13 275.89,213.55 282.03,218.14 288.17,221.83 294.31,225.8 300.45,229.72 309.66,235.04 321.94,243.66 334.22,253.3 346.5,260.7 358.78,268.7"/><rect x="52.15" y="99.89" width="5.4" height="5.4" fill="none" stroke="#22900a" stroke-width="1.2"/><rect x="58.29" y="124.52" width="5.4" height="5.4" fill="none" stroke="#22900a" stroke-width="1.2"/><rect x="64.43" y="120.42" width="5.4" height="5.4" fill="none" stroke="#22900a" stroke-width="1.2"/><rect x="70.57" y="120.21" width="5.4" height="5.4" fill="none" stroke="#22900a" stroke-width="1.2"/><rect x="76.71" y="120.97" width="5.4" height="5.4" fill="none" stroke="#22900a" stroke-width="1.2"/><rect x="82.85" y="123.33" width="5.4" height="5.4" fill="none" stroke="#22900a" stroke-width="1.2"/><rect x="88.99" y="125.27" width="5.4" height="5.4" fill="none" stroke="#22900a" stroke-width="1.2"/><rect x="95.13" y="127.26" width="5.4" height="5.4" fill="none" stroke="#22900a" stroke-width="1.2"/><rect x="101.27" y="129.95" width="5.4" height="5.4" fill="none" stroke="#22900a" stroke-width="1.2"/><rect x="107.41" y="131.99" width="5.4" height="5.4" fill="none" stroke="#22900a" stroke-width="1.2"/><rect x="113.55" y="134.6" width="5.4" height="5.4" fill="none" stroke="#22900a" stroke-width="1.2"/><rect x="119.69" y="136.83" width="5.4" height="5.4" fill="none" stroke="#22900a" stroke-width="1.2"/><rect x="125.83" y="139.23" width="5.4" height="5.4" fill="none" stroke="#22900a" stroke-width="1.2"/><rect x="131.97" y="141.53" width="5.4" height="5.4" fill="none" stroke="#22900a" stroke-width="1.2"/><rect x="138.11" y="143.83" width="5.4" height="5.4" fill="none" stroke="#22900a" stroke-width="1.2"/><rect x="144.25" y="146.09" width="5.4" height="5.4" fill="none" stroke="#22900a" stroke-width="1.2"/><rect x="150.39" y="148.46" width="5.4" height="5.4" fill="none" stroke="#22900a" stroke-width="1.2"/><rect x="156.53" y="151.1" width="5.4" height="5.4" fill="none" stroke="#22900a" stroke-width="1.2"/><rect x="162.67" y="153.72" width="5.4" height="5.4" fill="none" stroke="#22900a" stroke-width="1.2"/><rect x="168.81" y="156.24" width="5.4" height="5.4" fill="none" stroke="#22900a" stroke-width="1.2"/><rect x="174.95" y="158.77" width="5.4" height="5.4" fill="none" stroke="#22900a" stroke-width="1.2"/><rect x="181.09" y="161.41" width="5.4" height="5.4" fill="none" stroke="#22900a" stroke-width="1.2"/><rect x="187.23" y="164.09" width="5.4" height="5.4" fill="none" stroke="#22900a" stroke-width="1.2"/><rect x="193.37" y="167.32" width="5.4" height="5.4" fill="none" stroke="#22900a" stroke-width="1.2"/><rect x="199.51" y="170.71" width="5.4" height="5.4" fill="none" stroke="#22900a" stroke-width="1.2"/><rect x="205.65" y="172.89" width="5.4" height="5.4" fill="none" stroke="#22900a" stroke-width="1.2"/><rect x="211.79" y="176.49" width="5.4" height="5.4" fill="none" stroke="#22900a" stroke-width="1.2"/><rect x="217.93" y="180.19" width="5.4" height="5.4" fill="none" stroke="#22900a" stroke-width="1.2"/><rect x="224.07" y="183.84" width="5.4" height="5.4" fill="none" stroke="#22900a" stroke-width="1.2"/><rect x="230.21" y="185.94" width="5.4" height="5.4" fill="none" stroke="#22900a" stroke-width="1.2"/><rect x="236.35" y="189.75" width="5.4" height="5.4" fill="none" stroke="#22900a" stroke-width="1.2"/><rect x="242.49" y="193.54" width="5.4" height="5.4" fill="none" stroke="#22900a" stroke-width="1.2"/><rect x="248.63" y="196.64" width="5.4" height="5.4" fill="none" stroke="#22900a" stroke-width="1.2"/><rect x="254.77" y="200.79" width="5.4" height="5.4" fill="none" stroke="#22900a" stroke-width="1.2"/><rect x="260.91" y="203.49" width="5.4" height="5.4" fill="none" stroke="#22900a" stroke-width="1.2"/><rect x="267.05" y="207.43" width="5.4" height="5.4" fill="none" stroke="#22900a" stroke-width="1.2"/><rect x="273.19" y="210.85" width="5.4" height="5.4" fill="none" stroke="#22900a" stroke-width="1.2"/><rect x="279.33" y="215.44" width="5.4" height="5.4" fill="none" stroke="#22900a" stroke-width="1.2"/><rect x="285.47" y="219.13" width="5.4" height="5.4" fill="none" stroke="#22900a" stroke-width="1.2"/><rect x="291.61" y="223.1" width="5.4" height="5.4" fill="none" stroke="#22900a" stroke-width="1.2"/><rect x="297.75" y="227.02" width="5.4" height="5.4" fill="none" stroke="#22900a" stroke-width="1.2"/><rect x="306.96" y="232.34" width="5.4" height="5.4" fill="none" stroke="#22900a" stroke-width="1.2"/><rect x="319.24" y="240.96" width="5.4" height="5.4" fill="none" stroke="#22900a" stroke-width="1.2"/><rect x="331.52" y="250.6" width="5.4" height="5.4" fill="none" stroke="#22900a" stroke-width="1.2"/><rect x="343.8" y="258" width="5.4" height="5.4" fill="none" stroke="#22900a" stroke-width="1.2"/><rect x="356.08" y="266" width="5.4" height="5.4" fill="none" stroke="#22900a" stroke-width="1.2"/><polyline fill="none" stroke="#0000ff" stroke-width="1.1"  points="54.85,104.53 60.99,130.18 67.13,124.27 73.27,121.43 79.41,120.7 85.55,122.22 91.69,124.74 97.83,128.26 103.97,132.36 110.11,135.42 116.25,139.02 122.39,141.84 128.53,144.24 134.67,146.68 140.81,149.13 146.95,151.1 153.09,153.35 159.23,155.65 165.37,158.19 171.51,160.59 177.65,162.9 183.79,165.57 189.93,167.55 196.07,170.4 202.21,173.67 208.35,176.03 214.49,178.36 220.63,181.79 226.77,183.99 232.91,186.62 239.05,189.12 245.19,193.01 251.33,196.52 257.47,201.04 263.61,202.59 269.75,205.07 275.89,208.88 282.03,212.74 288.17,214.17 294.31,217.68 300.45,225.34 309.66,228.17 321.94,236.45 334.22,243.46 346.5,253.26 358.78,268.17"/><polygon points="54.85,101.83 57.55,106.83 52.15,106.83" fill="#0000ff"/><polygon points="60.99,127.48 63.69,132.48 58.29,132.48" fill="#0000ff"/><polygon points="67.13,121.57 69.83,126.57 64.43,126.57" fill="#0000ff"/><polygon points="73.27,118.73 75.97,123.73 70.57,123.73" fill="#0000ff"/><polygon points="79.41,118 82.11,123 76.71,123" fill="#0000ff"/><polygon points="85.55,119.52 88.25,124.52 82.85,124.52" fill="#0000ff"/><polygon points="91.69,122.04 94.39,127.04 88.99,127.04" fill="#0000ff"/><polygon points="97.83,125.56 100.53,130.56 95.13,130.56" fill="#0000ff"/><polygon points="103.97,129.66 106.67,134.66 101.27,134.66" fill="#0000ff"/><polygon points="110.11,132.72 112.81,137.72 107.41,137.72" fill="#0000ff"/><polygon points="116.25,136.32 118.95,141.32 113.55,141.32" fill="#0000ff"/><polygon points="122.39,139.14 125.09,144.14 119.69,144.14" fill="#0000ff"/><polygon points="128.53,141.54 131.23,146.54 125.83,146.54" fill="#0000ff"/><polygon points="134.67,143.98 137.37,148.98 131.97,148.98" fill="#0000ff"/><polygon points="140.81,146.43 143.51,151.43 138.11,151.43" fill="#0000ff"/><polygon points="146.95,148.4 149.65,153.4 144.25,153.4" fill="#0000ff"/><polygon points="153.09,150.65 155.79,155.65 150.39,155.65" fill="#0000ff"/><polygon points="159.23,152.95 161.93,157.95 156.53,157.95" fill="#0000ff"/><polygon points="165.37,155.49 168.07,160.49 162.67,160.49" fill="#0000ff"/><polygon points="171.51,157.89 174.21,162.89 168.81,162.89" fill="#0000ff"/><polygon points="177.65,160.2 180.35,165.2 174.95,165.2" fill="#0000ff"/><polygon points="183.79,162.87 186.49,167.87 181.09,167.87" fill="#0000ff"/><polygon points="189.93,164.85 192.63,169.85 187.23,169.85" fill="#0000ff"/><polygon points="196.07,167.7 198.77,172.7 193.37,172.7" fill="#0000ff"/><polygon points="202.21,170.97 204.91,175.97 199.51,175.97" fill="#0000ff"/><polygon points="208.35,173.33 211.05,178.33 205.65,178.33" fill="#0000ff"/><polygon points="214.49,175.66 217.19,180.66 211.79,180.66" fill="#0000ff"/><polygon points="220.63,179.09 223.33,184.09 217.93,184.09" fill="#0000ff"/><polygon points="226.77,181.29 229.47,186.29 224.07,186.29" fill="#0000ff"/><polygon points="232.91,183.92 235.61,188.92 230.21,188.92" fill="#0000ff"/><polygon points="239.05,186.42 241.75,191.42 236.35,191.42" fill="#0000ff"/><polygon points="245.19,190.31 247.89,195.31 242.49,195.31" fill="#0000ff"/><polygon points="251.33,193.82 254.03,198.82 248.63,198.82" fill="#0000ff"/><polygon points="257.47,198.34 260.17,203.34 254.77,203.34" fill="#0000ff"/><polygon points="263.61,199.89 266.31,204.89 260.91,204.89" fill="#0000ff"/><polygon points="269.75,202.37 272.45,207.37 267.05,207.37" fill="#0000ff"/><polygon points="275.89,206.18 278.59,211.18 273.19,211.18" fill="#0000ff"/><polygon points="282.03,210.04 284.73,215.04 279.33,215.04" fill="#0000ff"/><polygon points="288.17,211.47 290.87,216.47 285.47,216.47" fill="#0000ff"/><polygon points="294.31,214.98 297.01,219.98 291.61,219.98" fill="#0000ff"/><polygon points="300.45,222.64 303.15,227.64 297.75,227.64" fill="#0000ff"/><polygon points="309.66,225.47 312.36,230.47 306.96,230.47" fill="#0000ff"/><polygon points="321.94,233.75 324.64,238.75 319.24,238.75" fill="#0000ff"/><polygon points="334.22,240.76 336.92,245.76 331.52,245.76" fill="#0000ff"/><polygon points="346.5,250.56 349.2,255.56 343.8,255.56" fill="#0000ff"/><polygon points="358.78,265.47 361.48,270.47 356.08,270.47" fill="#0000ff"/><polyline fill="none" stroke="#ff0000" stroke-width="1.1" stroke-dasharray="1.1,0.9" points="54.85,162.5 60.99,144.2 67.13,130.39 73.27,121.26 79.41,115.65 85.55,113 91.69,112.17 97.83,113.05 103.97,116.1 110.11,120.23 116.25,125.99 122.39,132.55 128.53,139.6 134.67,147.29 140.81,155.01 146.95,162.14 153.09,169.53 159.23,175.9 165.37,182 171.51,186.5 177.65,191 183.79,194.6 189.93,197.7 196.07,200.7 202.21,203.8 208.35,206.8 214.49,208.9 220.63,210.6 226.77,213.3 232.91,216.5 239.05,219.7 245.19,221.7 251.33,224.5 257.47,225.6 263.61,228.6 269.75,230.9 275.89,233.9 282.03,236.6 288.17,239.4 294.31,242.7 300.45,243.7 309.66,248.6 321.94,254.4 334.22,258.7 346.5,266.4 358.78,272.1"/><polygon points="54.85,159.05 57.25,162.5 54.85,165.95 52.45,162.5" fill="#ff0000"/><polygon points="60.99,140.75 63.39,144.2 60.99,147.65 58.59,144.2" fill="#ff0000"/><polygon points="67.13,126.94 69.53,130.39 67.13,133.84 64.73,130.39" fill="#ff0000"/><polygon points="73.27,117.81 75.67,121.26 73.27,124.71 70.87,121.26" fill="#ff0000"/><polygon points="79.41,112.2 81.81,115.65 79.41,119.1 77.01,115.65" fill="#ff0000"/><polygon points="85.55,109.55 87.95,113 85.55,116.45 83.15,113" fill="#ff0000"/><polygon points="91.69,108.72 94.09,112.17 91.69,115.62 89.29,112.17" fill="#ff0000"/><polygon points="97.83,109.6 100.23,113.05 97.83,116.5 95.43,113.05" fill="#ff0000"/><polygon points="103.97,112.65 106.37,116.1 103.97,119.55 101.57,116.1" fill="#ff0000"/><polygon points="110.11,116.78 112.51,120.23 110.11,123.68 107.71,120.23" fill="#ff0000"/><polygon points="116.25,122.54 118.65,125.99 116.25,129.44 113.85,125.99" fill="#ff0000"/><polygon points="122.39,129.1 124.79,132.55 122.39,136 119.99,132.55" fill="#ff0000"/><polygon points="128.53,136.15 130.93,139.6 128.53,143.05 126.13,139.6" fill="#ff0000"/><polygon points="134.67,143.84 137.07,147.29 134.67,150.74 132.27,147.29" fill="#ff0000"/><polygon points="140.81,151.56 143.21,155.01 140.81,158.46 138.41,155.01" fill="#ff0000"/><polygon points="146.95,158.69 149.35,162.14 146.95,165.59 144.55,162.14" fill="#ff0000"/><polygon points="153.09,166.08 155.49,169.53 153.09,172.98 150.69,169.53" fill="#ff0000"/><polygon points="159.23,172.45 161.63,175.9 159.23,179.35 156.83,175.9" fill="#ff0000"/><polygon points="165.37,178.55 167.77,182 165.37,185.45 162.97,182" fill="#ff0000"/><polygon points="171.51,183.05 173.91,186.5 171.51,189.95 169.11,186.5" fill="#ff0000"/><polygon points="177.65,187.55 180.05,191 177.65,194.45 175.25,191" fill="#ff0000"/><polygon points="183.79,191.15 186.19,194.6 183.79,198.05 181.39,194.6" fill="#ff0000"/><polygon points="189.93,194.25 192.33,197.7 189.93,201.15 187.53,197.7" fill="#ff0000"/><polygon points="196.07,197.25 198.47,200.7 196.07,204.15 193.67,200.7" fill="#ff0000"/><polygon points="202.21,200.35 204.61,203.8 202.21,207.25 199.81,203.8" fill="#ff0000"/><polygon points="208.35,203.35 210.75,206.8 208.35,210.25 205.95,206.8" fill="#ff0000"/><polygon points="214.49,205.45 216.89,208.9 214.49,212.35 212.09,208.9" fill="#ff0000"/><polygon points="220.63,207.15 223.03,210.6 220.63,214.05 218.23,210.6" fill="#ff0000"/><polygon points="226.77,209.85 229.17,213.3 226.77,216.75 224.37,213.3" fill="#ff0000"/><polygon points="232.91,213.05 235.31,216.5 232.91,219.95 230.51,216.5" fill="#ff0000"/><polygon points="239.05,216.25 241.45,219.7 239.05,223.15 236.65,219.7" fill="#ff0000"/><polygon points="245.19,218.25 247.59,221.7 245.19,225.15 242.79,221.7" fill="#ff0000"/><polygon points="251.33,221.05 253.73,224.5 251.33,227.95 248.93,224.5" fill="#ff0000"/><polygon points="257.47,222.15 259.87,225.6 257.47,229.05 255.07,225.6" fill="#ff0000"/><polygon points="263.61,225.15 266.01,228.6 263.61,232.05 261.21,228.6" fill="#ff0000"/><polygon points="269.75,227.45 272.15,230.9 269.75,234.35 267.35,230.9" fill="#ff0000"/><polygon points="275.89,230.45 278.29,233.9 275.89,237.35 273.49,233.9" fill="#ff0000"/><polygon points="282.03,233.15 284.43,236.6 282.03,240.05 279.63,236.6" fill="#ff0000"/><polygon points="288.17,235.95 290.57,239.4 288.17,242.85 285.77,239.4" fill="#ff0000"/><polygon points="294.31,239.25 296.71,242.7 294.31,246.15 291.91,242.7" fill="#ff0000"/><polygon points="300.45,240.25 302.85,243.7 300.45,247.15 298.05,243.7" fill="#ff0000"/><polygon points="309.66,245.15 312.06,248.6 309.66,252.05 307.26,248.6" fill="#ff0000"/><polygon points="321.94,250.95 324.34,254.4 321.94,257.85 319.54,254.4" fill="#ff0000"/><polygon points="334.22,255.25 336.62,258.7 334.22,262.15 331.82,258.7" fill="#ff0000"/><polygon points="346.5,262.95 348.9,266.4 346.5,269.85 344.1,266.4" fill="#ff0000"/><polygon points="358.78,268.65 361.18,272.1 358.78,275.55 356.38,272.1" fill="#ff0000"/></g><g fill="none" stroke="#000" stroke-width="1.1"><rect x="45.5" y="17.5" width="326.0" height="300.0"/><rect x="45.5" y="317.5" width="326.0" height="160.0"/></g><path d="M54.5 17.5v8.5M54.5 317.5v-8.5M54.5 317.5v5.3M54.5 477.5v-5.3M85.5 17.5v4.3M85.5 317.5v-4.3M85.5 317.5v2.6M85.5 477.5v-2.6M116.5 17.5v4.3M116.5 317.5v-4.3M116.5 317.5v2.6M116.5 477.5v-2.6M146.5 17.5v4.3M146.5 317.5v-4.3M146.5 317.5v2.6M146.5 477.5v-2.6M177.5 17.5v8.5M177.5 317.5v-8.5M177.5 317.5v5.3M177.5 477.5v-5.3M208.5 17.5v4.3M208.5 317.5v-4.3M208.5 317.5v2.6M208.5 477.5v-2.6M239.5 17.5v4.3M239.5 317.5v-4.3M239.5 317.5v2.6M239.5 477.5v-2.6M269.5 17.5v4.3M269.5 317.5v-4.3M269.5 317.5v2.6M269.5 477.5v-2.6M300.5 17.5v8.5M300.5 317.5v-8.5M300.5 317.5v5.3M300.5 477.5v-5.3M331.5 17.5v4.3M331.5 317.5v-4.3M331.5 317.5v2.6M331.5 477.5v-2.6M361.5 17.5v4.3M361.5 317.5v-4.3M361.5 317.5v2.6M361.5 477.5v-2.6M45.5 316.98h5.6M371.5 316.98h-5.6M45.5 314.46h5.6M371.5 314.46h-5.6M45.5 312.5h11M371.5 312.5h-11M45.5 297.35h5.6M371.5 297.35h-5.6M45.5 288.66h5.6M371.5 288.66h-5.6M45.5 282.49h5.6M371.5 282.49h-5.6M45.5 277.71h5.6M371.5 277.71h-5.6M45.5 273.81h5.6M371.5 273.81h-5.6M45.5 270.5h5.6M371.5 270.5h-5.6M45.5 267.64h5.6M371.5 267.64h-5.6M45.5 265.12h5.6M371.5 265.12h-5.6M45.5 262.5h11M371.5 262.5h-11M45.5 248.01h5.6M371.5 248.01h-5.6M45.5 239.32h5.6M371.5 239.32h-5.6M45.5 233.15h5.6M371.5 233.15h-5.6M45.5 228.37h5.6M371.5 228.37h-5.6M45.5 224.47h5.6M371.5 224.47h-5.6M45.5 221.16h5.6M371.5 221.16h-5.6M45.5 218.3h5.6M371.5 218.3h-5.6M45.5 215.78h5.6M371.5 215.78h-5.6M45.5 213.5h11M371.5 213.5h-11M45.5 198.67h5.6M371.5 198.67h-5.6M45.5 189.98h5.6M371.5 189.98h-5.6M45.5 183.81h5.6M371.5 183.81h-5.6M45.5 179.03h5.6M371.5 179.03h-5.6M45.5 175.13h5.6M371.5 175.13h-5.6M45.5 171.82h5.6M371.5 171.82h-5.6M45.5 168.96h5.6M371.5 168.96h-5.6M45.5 166.44h5.6M371.5 166.44h-5.6M45.5 164.5h11M371.5 164.5h-11M45.5 149.33h5.6M371.5 149.33h-5.6M45.5 140.64h5.6M371.5 140.64h-5.6M45.5 134.47h5.6M371.5 134.47h-5.6M45.5 129.69h5.6M371.5 129.69h-5.6M45.5 125.79h5.6M371.5 125.79h-5.6M45.5 122.48h5.6M371.5 122.48h-5.6M45.5 119.62h5.6M371.5 119.62h-5.6M45.5 117.1h5.6M371.5 117.1h-5.6M45.5 114.5h11M371.5 114.5h-11M45.5 99.99h5.6M371.5 99.99h-5.6M45.5 91.3h5.6M371.5 91.3h-5.6M45.5 85.13h5.6M371.5 85.13h-5.6M45.5 80.35h5.6M371.5 80.35h-5.6M45.5 76.45h5.6M371.5 76.45h-5.6M45.5 73.14h5.6M371.5 73.14h-5.6M45.5 70.28h5.6M371.5 70.28h-5.6M45.5 67.76h5.6M371.5 67.76h-5.6M45.5 65.5h11M371.5 65.5h-11M45.5 50.65h5.6M371.5 50.65h-5.6M45.5 41.96h5.6M371.5 41.96h-5.6M45.5 35.79h5.6M371.5 35.79h-5.6M45.5 31.01h5.6M371.5 31.01h-5.6M45.5 27.11h5.6M371.5 27.11h-5.6M45.5 23.8h5.6M371.5 23.8h-5.6M45.5 20.94h5.6M371.5 20.94h-5.6M45.5 18.42h5.6M371.5 18.42h-5.6M45.5 442.84h5.5M371.5 442.84h-5.5M45.5 429.25h5.5M371.5 429.25h-5.5M45.5 417.47h5.5M371.5 417.47h-5.5M45.5 407.09h5.5M371.5 407.09h-5.5M45.5 389.4h5.5M371.5 389.4h-5.5M45.5 381.73h5.5M371.5 381.73h-5.5M45.5 374.67h5.5M371.5 374.67h-5.5M45.5 368.14h5.5M371.5 368.14h-5.5M45.5 362.05h5.5M371.5 362.05h-5.5M45.5 356.36h5.5M371.5 356.36h-5.5M45.5 351.02h5.5M371.5 351.02h-5.5M45.5 345.98h5.5M371.5 345.98h-5.5M45.5 341.21h5.5M371.5 341.21h-5.5M45.5 332.39h5.5M371.5 332.39h-5.5M45.5 328.29h5.5M371.5 328.29h-5.5M45.5 324.37h5.5M371.5 324.37h-5.5M45.5 320.62h5.5M371.5 320.62h-5.5M45.5 458.5h7.2M371.5 458.5h-7.2M45.5 397.5h7.2M371.5 397.5h-7.2M45.5 336.5h7.2M371.5 336.5h-7.2" stroke="#000" stroke-width="1" fill="none"/><text x="51" y="14.2" font-size="12.1">2360 GeV pp</text><text x="366.6" y="14.2" font-size="12.1" text-anchor="end">Soft QCD</text><text x="135.2" y="42.6" font-size="11.9">Charged multiplicity</text><text x="241.2" y="43.3" font-size="9.7">(|η| &lt; 1.0)</text><text transform="translate(16.4,59) rotate(-90)" font-size="12.3">dN/dN<tspan font-size="7.8" dx="-0.9" dy="2.9">ch</tspan></text><text transform="translate(380.3,131.2) rotate(-90)" font-size="9.35" fill="#666">Rivet 3.1.10, ≥ 400k events</text><text transform="translate(380.3,312.9) rotate(-90)" font-size="9.35" fill="#666">mcplots.cern.ch [arXiv:1306.3436]</text><text x="39.3" y="69.8" font-size="11" text-anchor="end">1</text><text x="21" y="120.24" font-size="11.1">10</text><text x="32.6" y="115.64" font-size="7.6">−1</text><text x="19.3" y="169.58" font-size="11.1">10</text><text x="30.9" y="164.98" font-size="7.6">−2</text><text x="19.3" y="218.92" font-size="11.1">10</text><text x="30.9" y="214.32" font-size="7.6">−3</text><text x="19.3" y="268.26" font-size="11.1">10</text><text x="30.9" y="263.66" font-size="7.6">−4</text><text x="19.3" y="317.6" font-size="11.1">10</text><text x="30.9" y="313" font-size="7.6">−5</text><text x="38.4" y="340.8" font-size="11.3" text-anchor="end">2</text><text x="38.4" y="402" font-size="11.3" text-anchor="end">1</text><text x="38.2" y="462" font-size="11.3" text-anchor="end">0.5</text><text x="373.6" y="340.8" font-size="11.3">2</text><text x="373.6" y="402" font-size="11.3">1</text><text x="373.5" y="462" font-size="11.3">0.5</text><text transform="translate(18.7,425.7) rotate(-90)" font-size="9">Ratio to ALICE</text><text x="54.85" y="489.2" font-size="11.4" text-anchor="middle">0</text><text x="177.65" y="489.2" font-size="11.4" text-anchor="middle">20</text><text x="300.45" y="489.2" font-size="11.4" text-anchor="middle">40</text><text x="354.6" y="502.9" font-size="12.1">N<tspan font-size="8" dy="3.4">ch</tspan></text><text x="166" y="302.2" font-size="7.8" fill="#a0a0a0">ALICE_2010_S8624100</text><rect x="73.8" y="221.2" width="5.6" height="5.6" fill="#000"/><line x1="64.0" y1="237.1" x2="88.6" y2="237.1" stroke="#b35c00" stroke-width="1" stroke-dasharray="2.4,2"/><circle cx="76.6" cy="237.1" r="2.65" fill="none" stroke="#b35c00" stroke-width="1.35"/><line x1="64.0" y1="250.1" x2="88.6" y2="250.1" stroke="#22900a" stroke-width="1" stroke-dasharray="2.4,2"/><rect x="73.9" y="247.4" width="5.4" height="5.4" fill="none" stroke="#22900a" stroke-width="1.2"/><line x1="64.0" y1="263.0" x2="88.6" y2="263.0" stroke="#0000ff" stroke-width="1.1"/><polygon points="76.6,260.3 79.3,265.3 73.9,265.3" fill="#0000ff"/><line x1="64.0" y1="276.2" x2="88.6" y2="276.2" stroke="#ff0000" stroke-width="1" stroke-dasharray="1.1,0.9"/><polygon points="76.6,272.75 79,276.2 76.6,279.65 74.2,276.2" fill="#ff0000"/><text x="94.3" y="226.8" font-size="9.4">ALICE</text><text x="94.3" y="239.9" font-size="9.4">Herwig++ 2.7.1 default</text><text x="94.3" y="252.9" font-size="9.4">Herwig 7.2.1 default</text><text x="94.3" y="265.8" font-size="9.4">Pythia 8.212 default</text><text x="94.3" y="279" font-size="9.4">Sherpa 2.2.9 default</text></svg></body></html>
